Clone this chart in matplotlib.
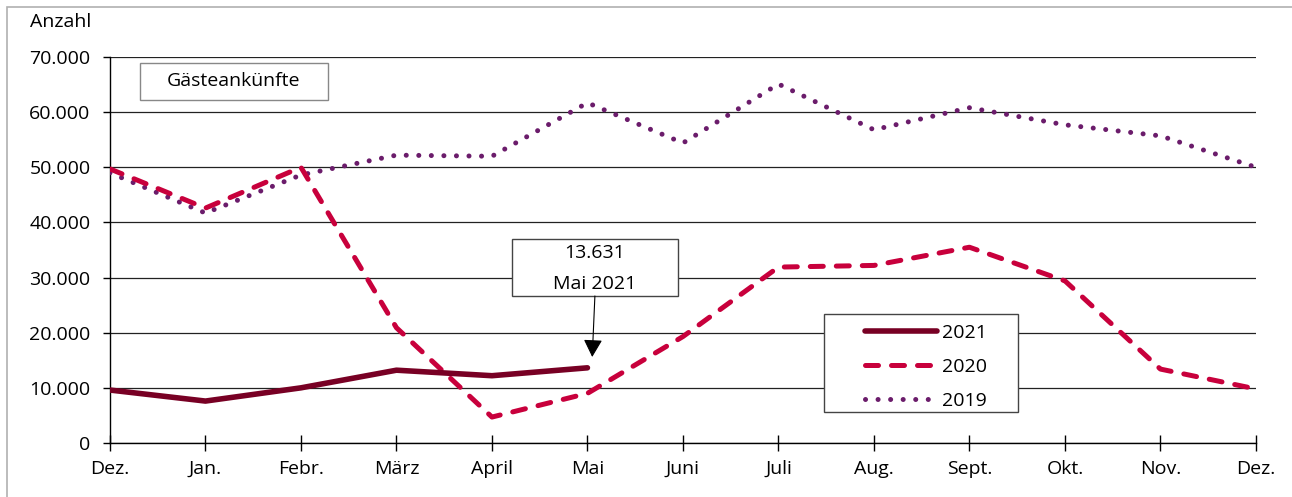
"""Gästeankünfte Dez. bis Dez., 2019-2021."""
import matplotlib.pyplot as plt
from matplotlib.patches import Rectangle

plt.rcParams["font.family"] = ["Open Sans", "DejaVu Sans"]

months = ["Dez.", "Jan.", "Febr.", "März", "April", "Mai", "Juni",
          "Juli", "Aug.", "Sept.", "Okt.", "Nov.", "Dez."]
guests_2021 = [9600, 7600, 10000, 13200, 12200, 13631]
guests_2020 = [49700, 42600, 50000, 20900, 4700, 9000, 19300,
               31900, 32200, 35500, 29400, 13400, 9800]
guests_2019 = [49000, 41700, 48600, 52200, 52000, 61700, 54400,
               65100, 56800, 60800, 57700, 55700, 50000]
y_ticks = [0, 10000, 20000, 30000, 40000, 50000, 60000, 70000]
y_labels = ["0", "10.000", "20.000", "30.000", "40.000", "50.000", "60.000", "70.000"]

c2021 = "#780024"
c2020 = "#c8003c"
c2019 = "#6b1c6b"
fs = 14

fig = plt.figure(figsize=(12.92, 4.97), dpi=100)
ax = fig.add_axes([0.0851, 0.1087, 0.8870, 0.7766])
fig.patches.append(Rectangle((7 / 1292, -0.01), 1.1, (490 / 497) + 0.01, transform=fig.transFigure,
                             fill=False, edgecolor="#b0b0b0", linewidth=1.2))

x = list(range(len(months)))
ax.plot(x[:len(guests_2021)], guests_2021, color=c2021, lw=4.0, solid_capstyle="round",
        label="2021", zorder=5)
ax.plot(x, guests_2020, color=c2020, lw=3.6, linestyle=(0, (2.6, 2.6)), dash_capstyle="round",
        label="2020", zorder=4)
ax.plot(x, guests_2019, color=c2019, lw=3.6, linestyle=(0, (0.01, 2.5)), dash_capstyle="round",
        label="2019", zorder=3)

ax.set_xlim(0, len(months) - 1)
ax.set_ylim(0, 70000)
ax.set_xticks(x)
ax.set_xticklabels(months, fontsize=fs)
ax.set_yticks(y_ticks)
ax.set_yticklabels(y_labels, fontsize=fs)
ax.grid(axis="y", color="#222222", lw=0.9)
ax.set_axisbelow(True)
for side in ("top", "right"):
    ax.spines[side].set_visible(False)
for side in ("left", "bottom"):
    ax.spines[side].set_color("black")
    ax.spines[side].set_linewidth(1.0)
ax.tick_params(axis="x", direction="inout", length=12, width=1, pad=6)
ax.tick_params(axis="y", direction="out", length=5, width=1, pad=9)

fig.text(30 / 1292, 1 - 22 / 497, "Anzahl", fontsize=fs, va="center", ha="left")

# title box
ax.add_patch(Rectangle((0.314, 62204), 2.283 - 0.314, 68912 - 62204, fc="white",
                       ec="#888888", lw=1, zorder=6))
ax.text(1.298, 65600, "Gästeankünfte", fontsize=fs, ha="center", va="center", zorder=7)

# callout for the latest value
ax.add_patch(Rectangle((4.209, 26658), 5.948 - 4.209, 36995 - 26658, fc="white",
                       ec="#444444", lw=1, zorder=6))
ax.text(5.078, 34400, "13.631", fontsize=fs, ha="center", va="center", zorder=7)
ax.text(5.078, 28900, "Mai 2021", fontsize=fs, ha="center", va="center", zorder=7)
ax.annotate("", xy=(5.05, 15600), xytext=(5.078, 26658),
            arrowprops=dict(arrowstyle="-|>,head_length=0.54,head_width=0.29", color="black",
                            lw=0.8, shrinkA=0, shrinkB=0, mutation_scale=20), zorder=7)

# legend box
ax.add_patch(Rectangle((7.476, 5622), 9.508 - 7.476, 23394 - 5622, fc="white",
                       ec="#444444", lw=1, zorder=8))
leg = ax.legend(loc="upper left", bbox_to_anchor=(0.6535, 0.324), fontsize=fs, frameon=False,
                handlelength=3.7, borderpad=0.3, labelspacing=0.82, handletextpad=0.25,
                borderaxespad=0)
leg.set_zorder(10)

fig.savefig("out.png", dpi=100)
